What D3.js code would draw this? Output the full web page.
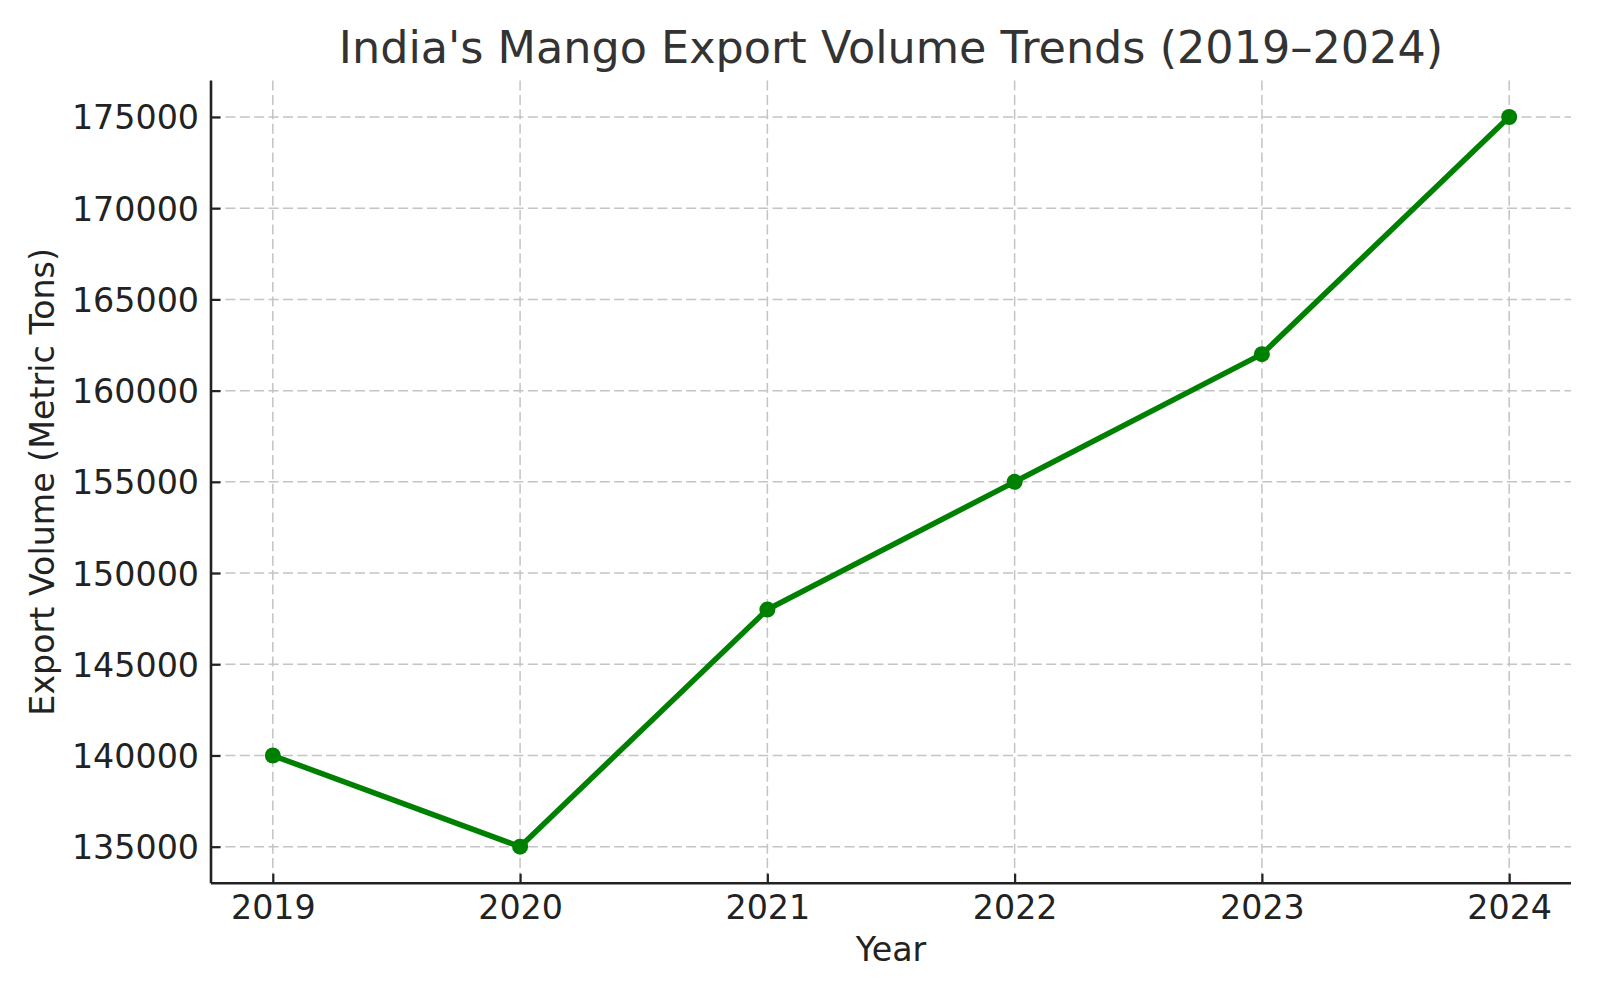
<!DOCTYPE html>
<html>
<head>
<meta charset="utf-8">
<script src="https://cdn.jsdelivr.net/npm/d3@7"></script>
<style>
html, body { margin: 0; padding: 0; background: #ffffff; }
svg { display: block; font-family: "DejaVu Sans", sans-serif; }
</style>
</head>
<body>
<svg id="chart" width="1600" height="1000"></svg>
<script>
const years = [2019, 2020, 2021, 2022, 2023, 2024];
const exportVolume = [140000, 135000, 148000, 155000, 162000, 175000];
const yTicks = [135000, 140000, 145000, 150000, 155000, 160000, 165000, 170000, 175000];
const titleText = "India's Mango Export Volume Trends (2019\u20132024)";
const xLabelText = "Year";
const yLabelText = "Export Volume (Metric Tons)";

(function () {
const svg = d3.select("#chart");
const pLeft = 211, pRight = 1571, pTop = 80.5, pBottom = 883.2;

const x = d3.scaleLinear().domain([2018.75, 2024.25]).range([pLeft, pRight]);
const y = d3.scaleLinear().domain([133000, 177000]).range([pBottom, pTop]);

// grid
const grid = svg.append("g");
grid.selectAll("line.gx").data(years).join("line").attr("class", "gx")
  .attr("x1", d => x(d)).attr("x2", d => x(d))
  .attr("y1", pTop).attr("y2", pBottom)
  .attr("stroke", "#c4c4c4").attr("stroke-width", 1.5)
  .attr("stroke-dasharray", "10,4.4");
grid.selectAll("line.gy").data(yTicks).join("line").attr("class", "gy")
  .attr("x1", pLeft).attr("x2", pRight)
  .attr("y1", d => y(d)).attr("y2", d => y(d))
  .attr("stroke", "#c4c4c4").attr("stroke-width", 1.5)
  .attr("stroke-dasharray", "10,4.4");

// axes
const xAxis = d3.axisBottom(x).tickValues(years).tickFormat(d3.format("d"))
  .tickSizeInner(-9.5).tickSizeOuter(0).tickPadding(20);
const yAxis = d3.axisLeft(y).tickValues(yTicks).tickFormat(d3.format("d"))
  .tickSizeInner(-9.5).tickSizeOuter(0).tickPadding(12);

const gx = svg.append("g").attr("transform", `translate(0,${pBottom})`).call(xAxis);
const gy = svg.append("g").attr("transform", `translate(${pLeft},0)`).call(yAxis);

[gx, gy].forEach(g => {
  g.select(".domain").attr("stroke", "#222222").attr("stroke-width", 2.6);
  g.selectAll(".tick line").attr("stroke", "#222222").attr("stroke-width", 2.2);
  g.selectAll(".tick text").attr("fill", "#222222")
    .style("font-family", "DejaVu Sans").style("font-size", "33.3px");
});
gx.select(".domain").attr("d", `M${pLeft},0H${pRight}`);
gy.select(".domain").attr("d", `M0,${pTop}V${pBottom}`);
gx.selectAll(".tick text").attr("dy", null).attr("y", 36);
gy.selectAll(".tick text").attr("dy", "0.36em");

// line
const line = d3.line().x((d, i) => x(years[i])).y(d => y(d));
svg.append("path").datum(exportVolume)
  .attr("d", line).attr("fill", "none")
  .attr("stroke", "#008000").attr("stroke-width", 5.5)
  .attr("stroke-linejoin", "round").attr("stroke-linecap", "square");
svg.selectAll("circle.pt").data(exportVolume).join("circle").attr("class", "pt")
  .attr("cx", (d, i) => x(years[i])).attr("cy", d => y(d))
  .attr("r", 8).attr("fill", "#008000");

// title and labels
svg.append("text").attr("x", (pLeft + pRight) / 2).attr("y", 63)
  .attr("text-anchor", "middle").attr("fill", "#333333")
  .style("font-size", "44.5px").text(titleText);
svg.append("text").attr("x", (pLeft + pRight) / 2).attr("y", 961)
  .attr("text-anchor", "middle").attr("fill", "#222222")
  .style("font-size", "33.3px").text(xLabelText);
svg.append("text").attr("transform", `translate(54,${(pTop + pBottom) / 2}) rotate(-90)`)
  .attr("text-anchor", "middle").attr("fill", "#222222")
  .style("font-size", "33.3px").text(yLabelText);
})();
</script>
</body>
</html>
